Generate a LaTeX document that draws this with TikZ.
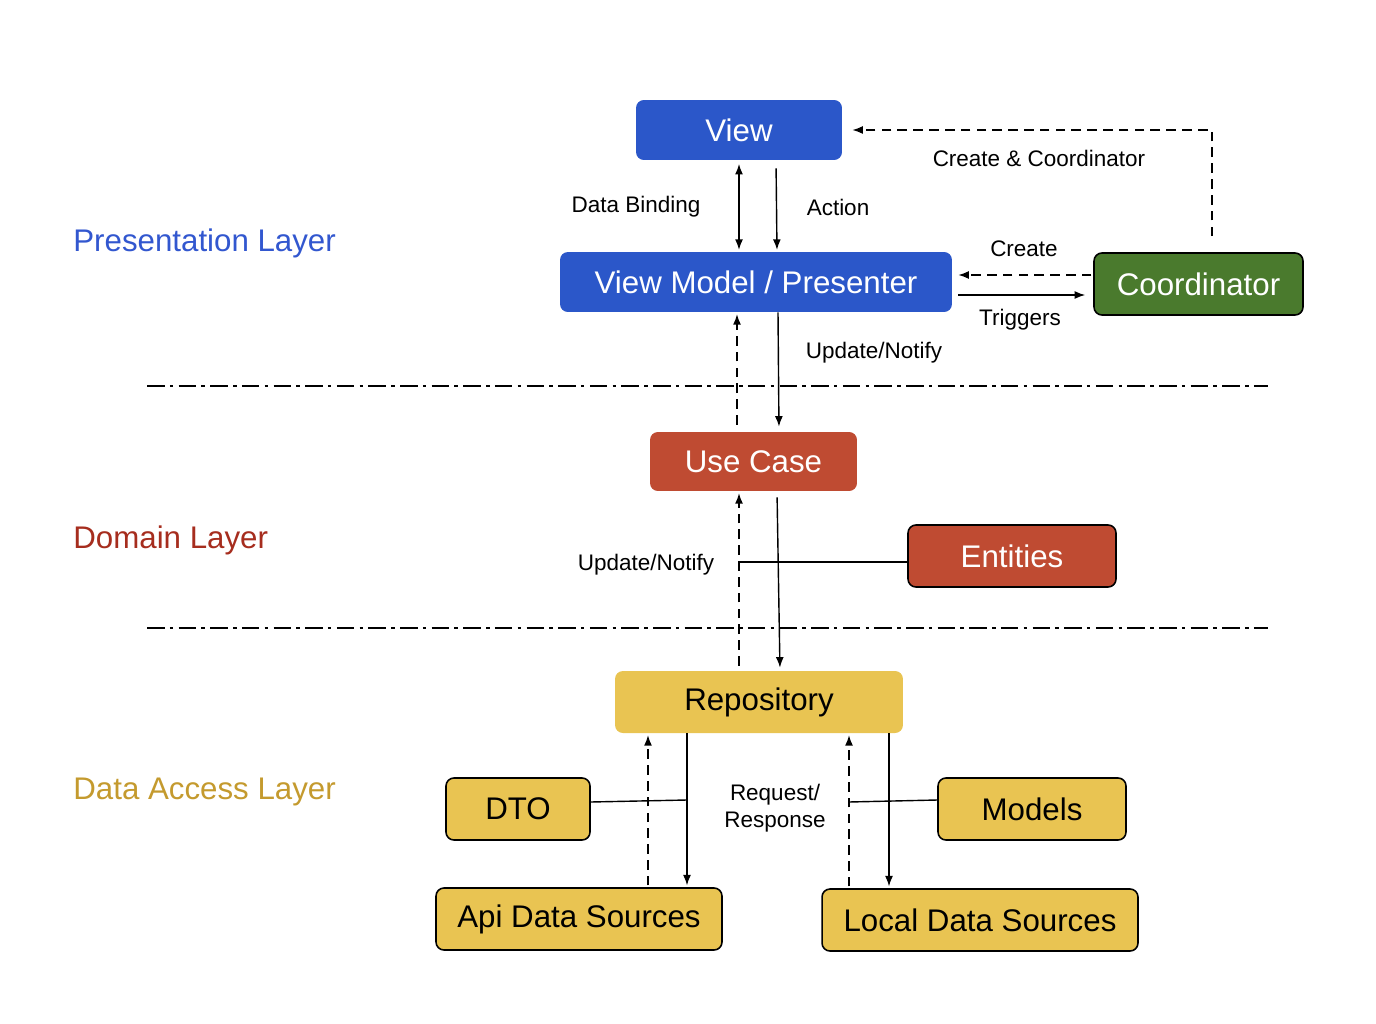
\documentclass[tikz,border=0pt]{standalone}
\usepackage{fontspec}
\setmainfont{Liberation Sans}
\usetikzlibrary{arrows.meta}
\definecolor{cblue}{HTML}{2B57C9}
\definecolor{cred}{HTML}{BF4B32}
\definecolor{cgreen}{HTML}{4A7A2D}
\definecolor{cyellow}{HTML}{E9C452}
\definecolor{tblue}{HTML}{3257CF}
\definecolor{tred}{HTML}{A62D1E}
\definecolor{tyellow}{HTML}{C49A2E}
\tikzset{
  box/.style={rounded corners=4.5pt, inner sep=0pt, font=\fontsize{17.8}{20}\selectfont, minimum height=1.22cm},
  plainbox/.style={box, text=white},
  bordered/.style={box, draw=black, line width=0.9pt},
  lbl/.style={font=\fontsize{12.8}{15}\selectfont, inner sep=0pt},
  layer/.style={font=\fontsize{17.8}{20}\selectfont, anchor=west, inner sep=0pt},
  conn/.style={line width=0.8pt, draw=black},
  arr/.style={conn, -{Latex[length=6pt,width=4.5pt]}},
  darr/.style={arr, dash pattern=on 5.5pt off 3.5pt},
  barr/.style={conn, {Latex[length=6pt,width=4.5pt]}-{Latex[length=6pt,width=4.5pt]}},
  sep/.style={line width=0.8pt, dash pattern=on 10pt off 3pt on 2pt off 3pt}
}
\begin{document}
\begin{tikzpicture}[x=0.02cm,y=-0.02cm]
\useasboundingbox (0,0) rectangle (1376,1024);
% coordinates for connector positions
\coordinate (x648) at (648,0);
\coordinate (x687) at (687,0);
\coordinate (x737) at (737,0);
\coordinate (x739) at (739,0);
\coordinate (x776) at (776,0);
\coordinate (x777) at (777,0);
\coordinate (x778) at (778,0);
\coordinate (x779) at (779,0);
\coordinate (x780) at (780,0);
\coordinate (x849) at (849,0);
\coordinate (x889) at (889,0);
\coordinate (x1212) at (1212,0);
\coordinate (y275) at (0,275);
\coordinate (y295) at (0,295);
\coordinate (y562) at (0,562);
\coordinate (y800) at (0,800);
\coordinate (y802) at (0,802);

% separators
\draw[sep] (147,386) -- (1268,386);
\draw[sep] (147,628) -- (1268,628);

% layer labels
\node[layer, text=tblue] (lp) at (73,243) {Presentation Layer};
\node[layer, text=tred] (ld) at (73,540) {Domain Layer};
\node[layer, text=tyellow] (la) at (73,792) {Data Access Layer};

% boxes
\node[plainbox, fill=cblue, minimum width=4.12cm, minimum height=1.2cm] (view) at (739,130) {View};
\node[plainbox, fill=cblue, minimum width=7.84cm, minimum height=1.2cm] (vm) at (756,282) {View Model / Presenter};
\node[bordered, fill=cgreen, text=white, minimum width=4.18cm, minimum height=1.24cm] (coord) at (1198.5,284) {Coordinator};
\node[plainbox, fill=cred, minimum width=4.14cm, minimum height=1.18cm] (uc) at (753.5,461.5) {Use Case};
\node[bordered, fill=cred, text=white, minimum width=4.16cm, minimum height=1.24cm] (ent) at (1012,556) {Entities};
\node[box, fill=cyellow, text=black, minimum width=5.76cm, minimum height=1.24cm] (repo) at (759,702) {Repository};
\node[bordered, fill=cyellow, minimum width=2.88cm, minimum height=1.24cm] (dto) at (518,809) {DTO};
\node[bordered, fill=cyellow, minimum width=3.76cm, minimum height=1.24cm] (models) at (1032,809) {Models};
\node[bordered, fill=cyellow, minimum width=5.72cm, minimum height=1.24cm] (api) at (579,919) {Api Data Sources};
\node[bordered, fill=cyellow, minimum width=6.32cm, minimum height=1.24cm] (local) at (980,920) {Local Data Sources};

% connectors: presentation
\draw[barr, shorten <=2pt, shorten >=1pt] (view.south -| x739) -- (vm.north -| x739);
\draw[arr, shorten <=0.16cm, shorten >=1pt] (view.south -| x776) -- (vm.north -| x777);
\draw[darr, shorten <=0.32cm, shorten >=0.2cm] (coord.north -| x1212) |- (view.east);
\draw[darr, shorten <=1pt, shorten >=0.12cm] (coord.west |- y275) -- (vm.east |- y275);
\draw[arr, shorten <=0.12cm, shorten >=0.16cm] (vm.east |- y295) -- (coord.west |- y295);

% presentation <-> domain
\draw[darr, shorten <=0.14cm, shorten >=1pt] (uc.north -| x737) -- (vm.south -| x737);
\draw[arr, shorten >=0.1cm] (vm.south -| x778) -- (uc.north -| x779);

% domain <-> data
\draw[darr, shorten <=0.1cm, shorten >=1pt] (repo.north -| x739) -- (uc.south -| x739);
\draw[arr, shorten <=0.12cm, shorten >=0.06cm] (uc.south -| x777) -- (repo.north -| x780);
\draw[conn] (ent.west |- y562) -- (x739 |- y562);

% data access
\draw[darr, shorten <=1pt, shorten >=1pt] (api.north -| x648) -- (repo.south -| x648);
\draw[arr, shorten >=1pt] (repo.south -| x687) -- (api.north -| x687);
\draw[conn] (dto.east |- y802) -- (x687 |- y800);
\draw[darr, shorten <=1pt, shorten >=1pt] (local.north -| x849) -- (repo.south -| x849);
\draw[arr, shorten >=1pt] (repo.south -| x889) -- (local.north -| x889);
\draw[conn] (models.west |- y800) -- (x849 |- y802);

% labels
\node[lbl] (tdb) at (636,207) {Data Binding};
\node[lbl] (tact) at (838,207) {Action};
\node[lbl] (tcc) at (1039,158) {Create \& Coordinator};
\node[lbl] (tcr) at (1024,249) {Create};
\node[lbl] (ttr) at (1020,320) {Triggers};
\node[lbl] (tun1) at (874,353) {Update/Notify};
\node[lbl] (tun2) at (646,565) {Update/Notify};
\node[lbl, align=center, font=\fontsize{12.8}{15.5}\selectfont] (trr) at (775,808) {Request/\\Response};
\end{tikzpicture}
\end{document}
